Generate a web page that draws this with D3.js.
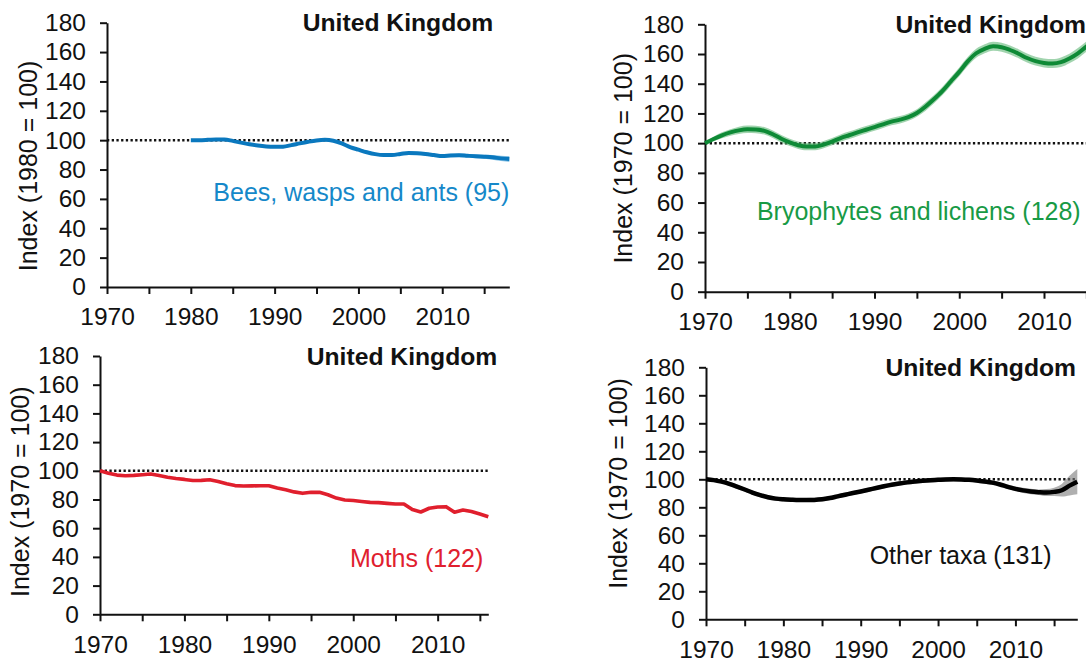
<!DOCTYPE html>
<html>
<head>
<meta charset="utf-8">
<script src="https://cdn.jsdelivr.net/npm/d3@7"></script>
<style>
  body { margin: 0; background: #fff; }
  svg { display: block; font-family: "Liberation Sans", Arial, sans-serif; }
  .axis path, .axis line { stroke: #111; stroke-width: 2; }
  .axis text { font-size: 24.5px; fill: #111; font-family: "Liberation Sans", Arial, sans-serif; }
</style>
</head>
<body>
<div id="chart"></div>
<script>
// ---- data ----
const xTicks = [1970, 1975, 1980, 1985, 1990, 1995, 2000, 2005, 2010, 2015];
const yTicks = [0, 20, 40, 60, 80, 100, 120, 140, 160, 180];
const titleText = "United Kingdom";

// Bees, wasps and ants, 1980 = 100
const beesStart = 1980;
const beesValues = [100, 100, 100.2, 100.5, 100.5, 99.5, 98.3, 97.2, 96.3, 95.7,
  95.5, 95.6, 96.6, 97.8, 98.9, 99.8, 100.2, 99.6, 97.8, 95.3,
  93.5, 91.8, 90.5, 89.9, 89.9, 90.6, 91.3, 91.1, 90.6, 89.9,
  89.2, 89.6, 89.8, 89.4, 89, 88.7, 88.3, 87.6, 87.2];
const beesCI = [0, 0.6, 0.8, 0.8, 0.8, 0.8, 0.8, 0.8, 0.8, 0.8,
  0.9, 0.9, 0.9, 0.9, 0.9, 0.9, 0.9, 0.9, 0.9, 0.9,
  1, 1, 1, 1, 1, 1, 1, 1, 1, 1,
  1.1, 1.1, 1.2, 1.2, 1.3, 1.4, 1.6, 1.8, 2];

// Bryophytes and lichens, 1970 = 100
const mossStart = 1970;
const mossValues = [100, 102.8, 105.3, 107.2, 108.6, 109.3, 109.2, 108.3, 106, 103,
  100.5, 98.6, 97.7, 97.7, 99, 101, 103.4, 105.3, 107.2, 109,
  110.8, 112.7, 114.5, 115.8, 117.5, 120.3, 124.5, 129.5, 135, 141.5,
  148, 155, 160.5, 163.5, 165.2, 164.6, 162.7, 160.2, 157.3, 155.2,
  154, 153.6, 154.5, 157, 160.5, 165, 170];
const mossCI = [0, 1.5, 2, 2.2, 2.5, 2.5, 2.5, 2.5, 2.5, 2.5,
  2.5, 2.5, 2.5, 2.5, 2.5, 2.5, 2.5, 2.5, 2.5, 2.5,
  2.5, 2.5, 2.5, 2.5, 2.5, 2.5, 2.8, 2.8, 2.8, 2.8,
  3, 3, 3, 3, 3, 3, 3, 3, 3, 3,
  3, 3, 3.2, 3.2, 3.5, 3.5, 3.5];

// Moths, 1970 = 100
const mothsStart = 1970;
const mothsValues = [100, 98.3, 97, 96.6, 96.8, 97.3, 97.8, 96.7, 95.5, 94.6,
  94, 93.2, 93.3, 93.8, 92.6, 91, 89.7, 89.4, 89.5, 89.6,
  89.6, 88, 86.8, 85.3, 84.3, 85, 85, 83.3, 81, 79.7,
  79.3, 78.6, 78, 77.8, 77.3, 76.9, 76.9, 73, 71.3, 73.9,
  74.8, 75, 71.1, 72.7, 71.6, 69.9, 68];

// Other taxa, 1970 = 100
const otherStart = 1970;
const otherValues = [100, 99.4, 98.3, 96.8, 94.8, 92.7, 90.5, 88.7, 87.2, 86.2,
  85.7, 85.4, 85.2, 85.2, 85.3, 85.7, 86.6, 87.8, 89, 90.2,
  91.3, 92.5, 93.8, 95, 96.1, 97, 97.8, 98.4, 98.9, 99.3,
  99.6, 99.9, 100, 99.9, 99.6, 99.1, 98.4, 97.6, 96.3, 94.6,
  93.2, 92.1, 91.3, 90.8, 90.5, 91, 92.2, 95.5, 98.3];
const otherCI = [0, 0.8, 1.2, 1.5, 1.5, 1.5, 1.5, 1.5, 1.5, 1.5,
  1.5, 1.5, 1.5, 1.5, 1.5, 1.5, 1.5, 1.5, 1.5, 1.5,
  1.5, 1.5, 1.5, 1.5, 1.5, 1.5, 1.5, 1.5, 1.5, 1.5,
  1.5, 1.5, 1.5, 1.5, 1.5, 1.5, 1.5, 1.5, 1.5, 1.6,
  1.7, 1.8, 1.9, 2, 2.5, 3, 4.5, 7, 9];

// ---- panel layout (pixels) ----
const panels = [
  { start: beesStart, values: beesValues, ci: beesCI, xMax: 2018, smooth: true,
    yLabel: "Index (1980 = 100)", label: "Bees, wasps and ants (95)",
    line: "#0a78be", band: "#4fa6db", text: "#1588c9", width: 4,
    left: 107, right: 509.3, top: 22.7, bottom: 287,
    yLabelX: 28.3, yLabelY: 166, titleEnd: 493.3, labelEnd: 509.3, labelY: 191.7 },
  { start: mossStart, values: mossValues, ci: mossCI, xMax: 2018, smooth: true,
    yLabel: "Index (1970 = 100)", label: "Bryophytes and lichens (128)",
    line: "#0e8a36", band: "#62b878", text: "#189a45", width: 4,
    left: 705, right: 1111.8, top: 24.3, bottom: 291.7,
    yLabelX: 623.3, yLabelY: 158.3, titleEnd: 1086, labelEnd: 1080.7, labelY: 210.7 },
  { start: mothsStart, values: mothsValues, ci: null, xMax: 2016, smooth: false,
    yLabel: "Index (1970 = 100)", label: "Moths (122)",
    line: "#e01f2d", band: null, text: "#e0202e", width: 3.6,
    left: 100, right: 488.3, top: 356, bottom: 614.3,
    yLabelX: 20, yLabelY: 491.7, titleEnd: 497.3, labelEnd: 483.3, labelY: 558.3 },
  { start: otherStart, values: otherValues, ci: otherCI, xMax: 2018, smooth: true,
    yLabel: "Index (1970 = 100)", label: "Other taxa (131)",
    line: "#000000", band: "#7a7a7a", text: "#111111", width: 4.5,
    left: 706, right: 1077.3, top: 367.3, bottom: 619.3,
    yLabelX: 618.3, yLabelY: 483.5, titleEnd: 1076, labelEnd: 1051.7, labelY: 555 }
];

const W = 1086, H = 663;
const svg = d3.select("#chart").append("svg")
  .attr("width", W).attr("height", H);

panels.forEach(function (p) {
  const data = p.values.map(function (v, i) {
    return { year: p.start + i, value: v, ci: p.ci ? p.ci[i] : 0 };
  });

  const x = d3.scaleLinear().domain([1970, p.xMax]).range([p.left, p.right]);
  const y = d3.scaleLinear().domain([0, 180]).range([p.bottom, p.top]);
  const curve = p.smooth ? d3.curveMonotoneX : d3.curveLinear;

  const g = svg.append("g");

  // axes
  g.append("g")
    .attr("class", "axis")
    .attr("transform", "translate(0," + p.bottom + ")")
    .call(d3.axisBottom(x)
      .tickValues(xTicks.filter(function (t) { return t <= p.xMax; }))
      .tickFormat(function (d) { return d % 10 === 0 ? d : ""; })
      .tickSize(7).tickSizeOuter(0).tickPadding(14));

  g.append("g")
    .attr("class", "axis")
    .attr("transform", "translate(" + p.left + ",0)")
    .call(d3.axisLeft(y).tickValues(yTicks).tickSize(7).tickSizeOuter(0).tickPadding(14));

  g.selectAll(".axis .tick text").attr("fill", "#111");

  // reference line at 100
  g.append("line")
    .attr("x1", x(1970)).attr("x2", x(p.xMax))
    .attr("y1", y(100)).attr("y2", y(100))
    .attr("stroke", "#111")
    .attr("stroke-width", 2.5)
    .attr("stroke-dasharray", "2.3,2.4");

  // confidence band
  if (p.ci) {
    g.append("path")
      .datum(data)
      .attr("fill", p.band)
      .attr("opacity", 0.6)
      .attr("d", d3.area()
        .x(function (d) { return x(d.year); })
        .y0(function (d) { return y(d.value - d.ci); })
        .y1(function (d) { return y(d.value + d.ci); })
        .curve(curve));
  }

  // trend line
  g.append("path")
    .datum(data)
    .attr("fill", "none")
    .attr("stroke", p.line)
    .attr("stroke-width", p.width)
    .attr("stroke-linejoin", "round")
    .attr("d", d3.line()
      .x(function (d) { return x(d.year); })
      .y(function (d) { return y(d.value); })
      .curve(curve));

  // y axis title
  g.append("text")
    .attr("transform", "translate(" + p.yLabelX + "," + p.yLabelY + ") rotate(-90)")
    .attr("text-anchor", "middle")
    .attr("dominant-baseline", "central")
    .style("font-size", "25px")
    .style("fill", "#111")
    .text(p.yLabel);

  // panel title
  g.append("text")
    .attr("x", p.titleEnd).attr("y", p.top)
    .attr("text-anchor", "end")
    .attr("dominant-baseline", "central")
    .style("font-size", "24.7px")
    .style("font-weight", "bold")
    .style("fill", "#111")
    .text(titleText);

  // series label
  g.append("text")
    .attr("x", p.labelEnd).attr("y", p.labelY)
    .attr("text-anchor", "end")
    .attr("dominant-baseline", "central")
    .style("font-size", "25px")
    .style("fill", p.text)
    .text(p.label);
});
</script>
</body>
</html>
